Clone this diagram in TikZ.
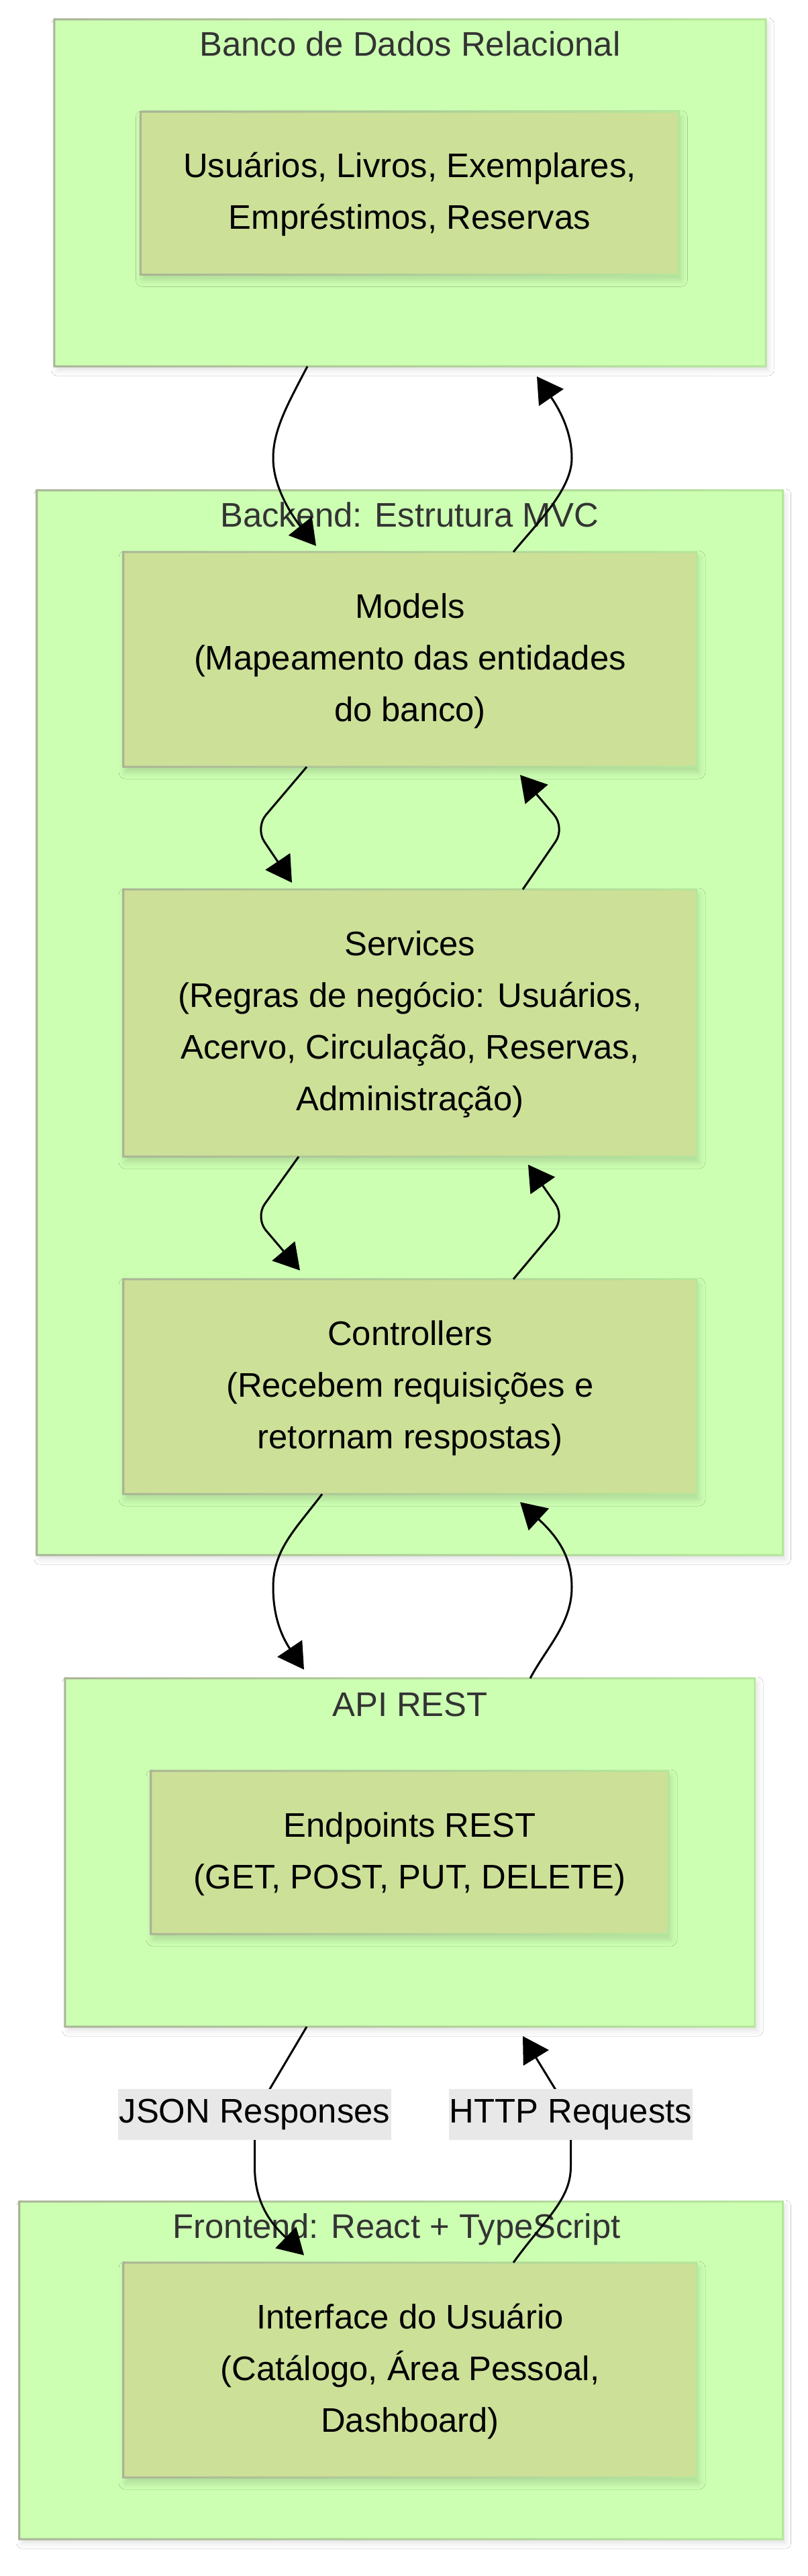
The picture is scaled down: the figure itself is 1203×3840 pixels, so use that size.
\documentclass[tikz,border=0pt]{standalone}
\usepackage{fontspec}
\setmainfont{Liberation Sans}
\usetikzlibrary{arrows.meta,shadows.blur,calc}
\definecolor{clfill}{RGB}{204,255,178}
\definecolor{ndfill}{RGB}{205,224,152}
\definecolor{bordA}{RGB}{170,180,150}
\definecolor{bordB}{RGB}{180,230,155}
\definecolor{lblbg}{RGB}{232,232,232}
\definecolor{ttl}{RGB}{51,51,51}
\pgfdeclarelayer{bg}
\pgfdeclarelayer{mid}
\pgfsetlayers{bg,mid,main}
\newcommand\Ln{\strut}
\newcommand\gbord[1]{%
  \shade[even odd rule, left color=bordA, right color=bordB]
    ([shift={(-1.5pt,-1.5pt)}]#1.south west) rectangle ([shift={(1.5pt,1.5pt)}]#1.north east)
    ([shift={(1.5pt,1.5pt)}]#1.south west) rectangle ([shift={(-1.5pt,-1.5pt)}]#1.north east);}
\begin{document}
\begin{tikzpicture}[x=1pt,y=-1pt,
  cluster/.style={rectangle, fill=clfill, inner sep=0pt,
    blur shadow={shadow xshift=4pt, shadow yshift=-6pt, shadow blur radius=8pt, shadow opacity=12}},
  inbox/.style={rectangle, fill=ndfill, inner sep=0pt, align=center, text=black,
    font=\fontsize{50.8}{77}\selectfont,
    blur shadow={shadow xshift=3pt, shadow yshift=-8pt, shadow blur radius=10pt, shadow opacity=15}},
  ctitle/.style={anchor=base, inner sep=0pt, text=ttl, font=\fontsize{50.8}{77}\selectfont},
  lbl/.style={fill=lblbg, inner sep=0pt, minimum height=76pt, text=black, font=\fontsize{50.8}{77}\selectfont},
  flow/.style={line width=3pt, black, -{Triangle[length=38pt,width=44pt]}},
]
\useasboundingbox (0,0) rectangle (1203,3840);

\begin{pgfonlayer}{bg}
\fill[white] (0,0) rectangle (1203,3840);
% Database cluster
\node[cluster, minimum width=1060pt, minimum height=517pt] (dbc) at (611,287.5) {};
\gbord{dbc}
\node[ctitle] (dbt) at (611,84) {Banco de Dados Relacional};
\node[inbox, minimum width=802pt, minimum height=242.5pt] (dbn) at (610.5,288)
  {\Ln Usuários, Livros, Exemplares,\\\Ln Empréstimos, Reservas};
\gbord{dbn}

% Backend cluster
\node[cluster, minimum width=1111.5pt, minimum height=1587pt] (bec) at (610.75,1524.5) {};
\gbord{bec}
\node[ctitle] (bet) at (610,785) {Backend: Estrutura MVC};
\node[inbox, minimum width=854pt, minimum height=320pt] (models) at (611,983)
  {\Ln Models\\\Ln (Mapeamento das entidades\\\Ln do banco)};
\gbord{models}
\node[inbox, minimum width=854pt, minimum height=398pt] (services) at (611,1525)
  {\Ln Services\\\Ln (Regras de negócio: Usuários,\\\Ln Acervo, Circulação, Reservas,\\\Ln Administração)};
\gbord{services}
\node[inbox, minimum width=854pt, minimum height=320pt] (controllers) at (611,2067)
  {\Ln Controllers\\\Ln (Recebem requisições e\\\Ln retornam respostas)};
\gbord{controllers}

% API cluster
\node[cluster, minimum width=1028pt, minimum height=519pt] (apic) at (611,2761.5) {};
\gbord{apic}
\node[ctitle] (apit) at (611,2558) {API REST};
\node[inbox, minimum width=771pt, minimum height=243pt] (endp) at (610.5,2761.5)
  {\Ln Endpoints REST\\\Ln (GET, POST, PUT, DELETE)};
\gbord{endp}

% Frontend cluster
\node[cluster, minimum width=1137.5pt, minimum height=503pt] (fec) at (597.75,3533.5) {};
\gbord{fec}
\node[ctitle] (fet) at (591,3336) {Frontend: React + TypeScript};
\node[inbox, minimum width=854pt, minimum height=320pt] (ui) at (611,3533)
  {\Ln Interface do Usuário\\\Ln (Catálogo, Área Pessoal,\\\Ln Dashboard)};
\gbord{ui}
\end{pgfonlayer}

% edge labels (top layer)
\node[lbl, minimum width=407pt] (jsonl) at (379.5,3152) {JSON Responses};
\node[lbl, minimum width=363pt] (httpl) at (850.5,3152) {HTTP Requests};

\begin{pgfonlayer}{mid}
% DB <-> Models
\draw[flow] ([xshift=-153pt]dbc.south) .. controls (430,600) and (407,640) .. (407,683)
  .. controls (407,730) and (440,775) .. ([xshift=-140pt,yshift=9pt]models.north);
\draw[flow] ([xshift=154pt]models.north) .. controls (800,780) and (852,730) .. (852,683)
  .. controls (852,640) and (830,605) .. ([xshift=189pt,yshift=-15pt]dbc.south);
% Models <-> Services
\draw[flow, rounded corners=25pt] ([xshift=-154pt]models.south) -- (380,1234)
  -- ([xshift=-176pt,yshift=10pt]services.north);
\draw[flow, rounded corners=25pt] ([xshift=168pt]services.north) -- (842,1234)
  -- ([xshift=164pt,yshift=-12pt]models.south);
% Services <-> Controllers
\draw[flow, rounded corners=25pt] ([xshift=-166pt]services.south) -- (380,1815)
  -- ([xshift=-164pt,yshift=13pt]controllers.north);
\draw[flow, rounded corners=25pt] ([xshift=154pt]controllers.north) -- (842,1815)
  -- ([xshift=176pt,yshift=-12pt]services.south);
% Controllers <-> API
\draw[flow] ([xshift=-131pt]controllers.south) .. controls (440,2280) and (407,2310) .. (407,2366)
  .. controls (407,2410) and (420,2440) .. ([xshift=-158pt,yshift=13pt]apic.north);
\draw[flow] ([xshift=179pt]apic.north) .. controls (815,2455) and (852,2420) .. (852,2366)
  .. controls (852,2320) and (830,2290) .. ([xshift=164pt,yshift=-12pt]controllers.south);
% API <-> Frontend
\draw[flow] ([xshift=-154pt]apic.south) -- (jsonl.center) -- (379.5,3230)
  .. controls (379.5,3290) and (410,3320) .. ([xshift=-158pt,yshift=11pt]ui.north);
\draw[flow] ([xshift=154pt]ui.north) .. controls (810,3310) and (850.5,3280) .. (850.5,3230)
  -- (httpl.center) -- ([xshift=168pt,yshift=-14pt]apic.south);
\end{pgfonlayer}
\end{tikzpicture}
\end{document}
